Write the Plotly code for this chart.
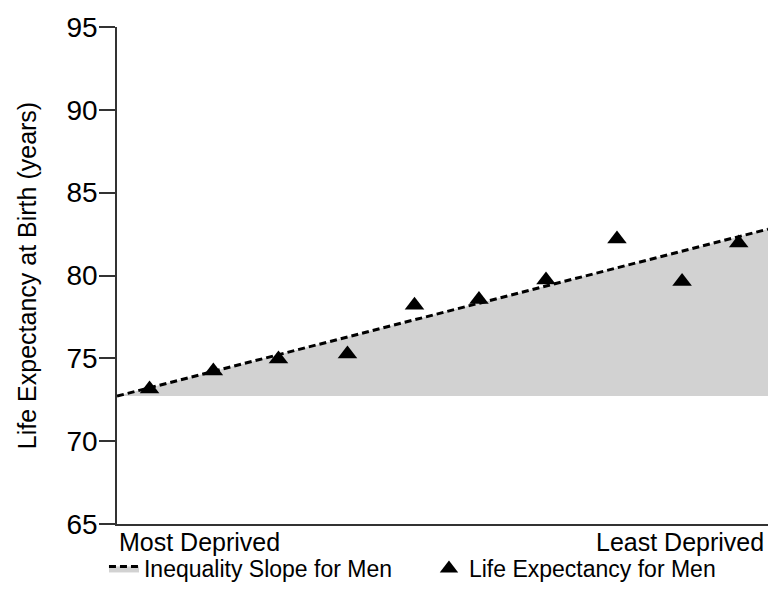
import plotly.graph_objects as go

# Relative position of each deprivation group (0 = most deprived, 1 = least deprived)
group_position = [0.05, 0.148, 0.248, 0.354, 0.457, 0.556, 0.659, 0.768, 0.868, 0.955]
# Life expectancy for men (years)
life_expectancy_men = [73.15, 74.23, 74.96, 75.26, 78.2, 78.55, 79.73, 82.2, 79.64, 81.96]

# Inequality slope endpoints (fitted line)
slope_x = [0.0, 1.0]
slope_y = [72.72, 82.8]
baseline_y = [72.72, 72.72]

y_ticks = [65, 70, 75, 80, 85, 90, 95]
x_labels = ["Most Deprived", "Least Deprived"]

FONT = "Liberation Sans, Arial, sans-serif"

fig = go.Figure()

fig.add_trace(go.Scatter(
    x=slope_x, y=baseline_y, mode="lines",
    line=dict(width=0, color="rgba(0,0,0,0)"),
    showlegend=False, hoverinfo="skip"))

fig.add_trace(go.Scatter(
    x=slope_x, y=slope_y, mode="lines",
    fill="tonexty", fillcolor="#d2d2d2",
    line=dict(color="black", width=3, dash="7px,4px"),
    name="Inequality Slope for Men"))

fig.add_trace(go.Scatter(
    x=group_position, y=life_expectancy_men, mode="markers",
    marker=dict(symbol="triangle-up", size=17, color="black"),
    name="Life Expectancy for Men"))

fig.update_layout(
    width=769, height=590,
    margin=dict(l=117, r=1, t=27, b=66, autoexpand=False),
    paper_bgcolor="white", plot_bgcolor="white",
    font=dict(family=FONT, color="black"),
    legend=dict(
        orientation="h", traceorder="normal",
        xref="container", x=0.1352, xanchor="left",
        yref="container", y=0, yanchor="bottom",
        font=dict(size=23, family=FONT, color="black"),
        entrywidth=280, entrywidthmode="pixels",
        bgcolor="rgba(0,0,0,0)"),
    xaxis=dict(
        range=[0, 1], showgrid=False, zeroline=False,
        showticklabels=False, ticks="",
        showline=True, linecolor="#333", linewidth=1.5),
    yaxis=dict(
        range=[65, 95], tickvals=y_ticks, showgrid=False, zeroline=False,
        ticks="outside", ticklen=16, tickwidth=1.5, tickcolor="#333",
        ticklabelstandoff=-4,
        tickfont=dict(size=28, family=FONT, color="black"),
        showline=True, linecolor="#333", linewidth=1.5,
        title=dict(text="Life Expectancy at Birth (years)",
                   font=dict(size=25, family=FONT, color="black"),
                   standoff=23)),
)

fig.add_annotation(x=0, y=0, xref="paper", yref="paper",
                   text=x_labels[0], showarrow=False,
                   xanchor="left", yanchor="top", yshift=-2, xshift=0,
                   font=dict(size=25, family=FONT, color="black"))
fig.add_annotation(x=1, y=0, xref="paper", yref="paper",
                   text=x_labels[1], showarrow=False,
                   xanchor="right", yanchor="top", yshift=-2, xshift=-2,
                   font=dict(size=25, family=FONT, color="black"))

fig.write_html("out.html", config={"displayModeBar": False},
               post_script="document.body.style.margin='0';")
